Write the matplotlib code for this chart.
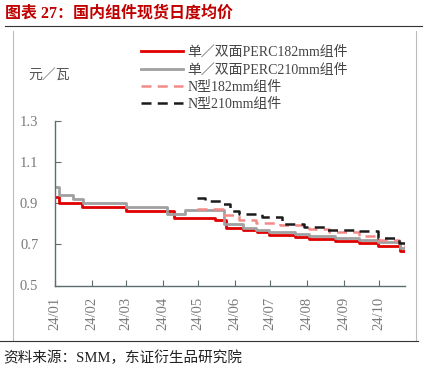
import matplotlib
matplotlib.use("Agg")
import matplotlib.pyplot as plt
import pandas as pd
from matplotlib.lines import Line2D

plt.rcParams['font.family'] = ['Liberation Serif', 'Noto Sans CJK SC', 'DejaVu Sans']

# step change points (元/瓦)
perc182_dates = ["2024-01-01", "2024-01-04", "2024-01-24", "2024-03-01", "2024-04-11",
                 "2024-05-15", "2024-05-25", "2024-06-08", "2024-06-20", "2024-06-30",
                 "2024-07-22", "2024-08-03", "2024-08-25", "2024-09-14", "2024-09-30",
                 "2024-10-19", "2024-10-23"]
perc182_vals = [0.93, 0.90, 0.88, 0.86, 0.83, 0.82, 0.78, 0.77, 0.76, 0.745,
                0.735, 0.725, 0.715, 0.705, 0.69, 0.67, 0.67]

perc210_dates = ["2024-01-01", "2024-01-04", "2024-01-16", "2024-01-25", "2024-03-01",
                 "2024-04-05", "2024-04-20", "2024-05-23", "2024-06-08", "2024-06-19",
                 "2024-06-30", "2024-07-22", "2024-08-03", "2024-08-25", "2024-09-14",
                 "2024-09-30", "2024-10-19", "2024-10-23"]
perc210_vals = [0.98, 0.94, 0.92, 0.90, 0.88, 0.85, 0.865, 0.80, 0.78, 0.77,
                0.76, 0.75, 0.74, 0.73, 0.72, 0.71, 0.68, 0.68]

n182_dates = ["2024-04-30", "2024-05-22", "2024-06-05", "2024-06-19", "2024-07-09",
              "2024-08-03", "2024-08-20", "2024-09-14", "2024-10-01", "2024-10-18",
              "2024-10-23"]
n182_vals = [0.87, 0.845, 0.82, 0.805, 0.795, 0.775, 0.76, 0.74, 0.72, 0.69, 0.69]

n210_dates = ["2024-04-30", "2024-05-07", "2024-05-20", "2024-05-28", "2024-06-05",
              "2024-06-24", "2024-07-11", "2024-07-30", "2024-08-18", "2024-09-12",
              "2024-09-30", "2024-10-18", "2024-10-23"]
n210_vals = [0.925, 0.91, 0.895, 0.86, 0.85, 0.835, 0.80, 0.785, 0.77, 0.765,
             0.73, 0.705, 0.705]

labels = ["单／双面PERC182mm组件", "单／双面PERC210mm组件", "N型182mm组件", "N型210mm组件"]
xtick_labels = ["24/01", "24/02", "24/03", "24/04", "24/05",
                "24/06", "24/07", "24/08", "24/09", "24/10"]
yticks = [0.5, 0.7, 0.9, 1.1, 1.3]

fig = plt.figure(figsize=(4.31, 3.81), dpi=100)
ax = fig.add_axes([55 / 431, 1 - 285.5 / 381, 350 / 431, 164.5 / 381])

series = [
    (perc182_dates, perc182_vals, dict(color="#e00000", lw=2.0, ls="-")),
    (perc210_dates, perc210_vals, dict(color="#a0a0a0", lw=2.0, ls="-")),
    (n182_dates, n182_vals, dict(color="#f48a88", lw=1.8, ls=(0, (4, 2.5)))),
    (n210_dates, n210_vals, dict(color="#1a1a1a", lw=1.8, ls=(0, (4, 2.5)))),
]
handles = []
for dates, vals, style in series:
    x = pd.to_datetime(dates)
    ax.plot(x, vals, drawstyle="steps-post", **style)
    handles.append(Line2D([], [], **style))

axis_col = "#5d6d6d"
ax.set_xlim(pd.Timestamp("2024-01-01"), pd.Timestamp("2024-10-23"))
ax.set_ylim(0.5, 1.3)
ax.set_yticks(yticks)
ax.set_yticklabels([f"{v:.1f}" for v in yticks])
month_ticks = pd.date_range("2024-01-01", periods=10, freq="MS")
ax.set_xticks(month_ticks)
ax.set_xticklabels(xtick_labels, rotation=90)
for s in ["top", "right"]:
    ax.spines[s].set_visible(False)
for s in ["left", "bottom"]:
    ax.spines[s].set_color(axis_col)
    ax.spines[s].set_linewidth(1.0)
ax.tick_params(axis="both", direction="in", length=4, color=axis_col,
               labelcolor="#7a7a7a", labelsize=10.5)
ax.tick_params(axis="y", pad=12)
ax.tick_params(axis="x", pad=8)

fig.legend(handles, labels, loc="upper left", bbox_to_anchor=(141 / 431, 1 - 46 / 381),
           frameon=False, fontsize=10, handlelength=3.0, handletextpad=0.35,
           labelspacing=0.3, borderpad=0, borderaxespad=0, labelcolor="#444444")

fig.text(28 / 431, 1 - 75 / 381, "元／瓦", fontsize=10, color="#555555", va="center")

fig.text(5 / 431, 1 - 14 / 381, "图表 27：国内组件现货日度均价", fontsize=11.5,
         color="#c00000", fontweight="bold", va="center")
fig.add_artist(Line2D([5 / 431, 422 / 431], [1 - 26 / 381] * 2, color="#333333", lw=0.8))
fig.add_artist(Line2D([13 / 431, 13 / 431], [1 - 31 / 381, 1 - 340 / 381], color="#bbbbbb", lw=0.8))
fig.add_artist(Line2D([416 / 431, 416 / 431], [1 - 31 / 381, 1 - 340 / 381], color="#bbbbbb", lw=0.8))
fig.add_artist(Line2D([0, 418 / 431], [1 - 341 / 381] * 2, color="#333333", lw=0.8))
fig.text(3 / 431, 1 - 358 / 381, "资料来源：SMM，东证衍生品研究院", fontsize=10.5,
         color="#222222", va="center")

fig.savefig("out.png", dpi=100)
